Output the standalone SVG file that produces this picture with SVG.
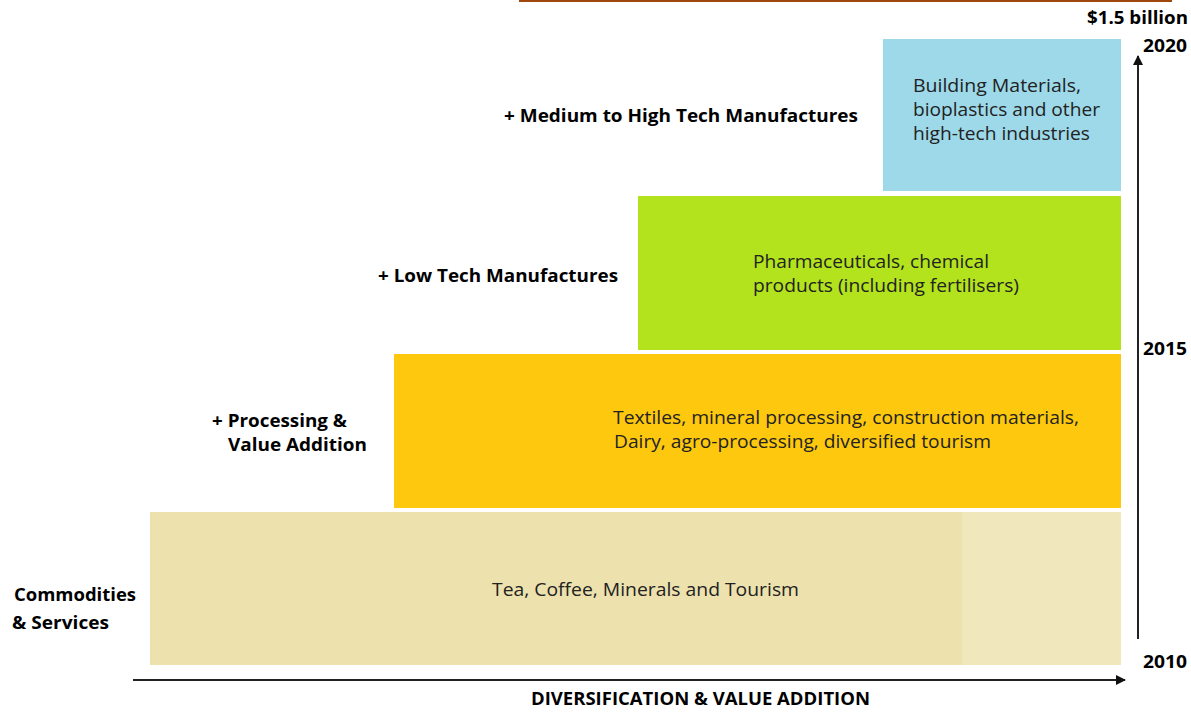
<svg xmlns="http://www.w3.org/2000/svg" width="1191" height="715" viewBox="0 0 1191 715">
<style>
.lbl{font-family:"Open Sans","Liberation Sans",sans-serif;font-weight:bold;font-size:17px;fill:#000}
.body{font-family:"Open Sans","Liberation Sans",sans-serif;font-size:17.5px;fill:#222}
.axis{stroke:#222;stroke-width:2;fill:none}
</style>
<defs>
<marker id="arr" viewBox="0 0 10 10" refX="9" refY="5" markerWidth="5" markerHeight="5" orient="auto" markerUnits="strokeWidth">
<path d="M0,0 L10,5 L0,10 z" fill="#111"/>
</marker>
</defs>
<rect width="1191" height="715" fill="#fff"/>
<line x1="519" y1="1" x2="1172" y2="1" stroke="#9E480E" stroke-width="2"/>
<text class="lbl" x="1087" y="24" textLength="101" lengthAdjust="spacingAndGlyphs">$1.5 billion</text>

<g id="node-high">
<rect x="883" y="39" width="238" height="152" fill="#9DD9E9"/>
<text class="body" x="913" y="92" textLength="168" lengthAdjust="spacingAndGlyphs">Building Materials,</text>
<text class="body" x="913" y="116" textLength="187" lengthAdjust="spacingAndGlyphs">bioplastics and other</text>
<text class="body" x="913" y="140" textLength="177" lengthAdjust="spacingAndGlyphs">high-tech industries</text>
</g>
<g id="node-low">
<rect x="638" y="196" width="483" height="154" fill="#B3E31C"/>
<text class="body" x="753" y="268" textLength="236" lengthAdjust="spacingAndGlyphs">Pharmaceuticals, chemical</text>
<text class="body" x="753" y="292" textLength="266" lengthAdjust="spacingAndGlyphs">products (including fertilisers)</text>
</g>
<g id="node-processing">
<rect x="394" y="354" width="727" height="154" fill="#FDC80D"/>
<text class="body" x="613" y="424" textLength="466" lengthAdjust="spacingAndGlyphs">Textiles, mineral processing, construction materials,</text>
<text class="body" x="614" y="448" textLength="377" lengthAdjust="spacingAndGlyphs">Dairy, agro-processing, diversified tourism</text>
</g>
<g id="node-commodities">
<rect x="150" y="512" width="812" height="153" fill="#EDE1AE"/>
<rect x="962" y="512" width="159" height="153" fill="#F0E7BC"/>
<text class="body" x="492" y="596" textLength="307" lengthAdjust="spacingAndGlyphs">Tea, Coffee, Minerals and Tourism</text>
</g>

<g id="labels">
<text class="lbl" x="504" y="122" textLength="354" lengthAdjust="spacingAndGlyphs">+ Medium to High Tech Manufactures</text>
<text class="lbl" x="378" y="282" textLength="240" lengthAdjust="spacingAndGlyphs">+ Low Tech Manufactures</text>
<text class="lbl" x="212" y="427" textLength="135" lengthAdjust="spacingAndGlyphs">+ Processing &amp;</text>
<text class="lbl" x="228" y="451" textLength="139" lengthAdjust="spacingAndGlyphs">Value Addition</text>
<text class="lbl" x="14" y="601" textLength="122" lengthAdjust="spacingAndGlyphs">Commodities</text>
<text class="lbl" x="12" y="629" textLength="97" lengthAdjust="spacingAndGlyphs">&amp; Services</text>
</g>

<g id="connectors">
<line class="axis" x1="1138" y1="639" x2="1138" y2="56" marker-end="url(#arr)"/>
<line class="axis" x1="133" y1="680" x2="1125" y2="680" marker-end="url(#arr)"/>
</g>

<g id="axis-labels">
<text class="lbl" x="1143" y="52" textLength="44" lengthAdjust="spacingAndGlyphs">2020</text>
<text class="lbl" x="1143" y="355" textLength="44" lengthAdjust="spacingAndGlyphs">2015</text>
<text class="lbl" x="1143" y="668" textLength="44" lengthAdjust="spacingAndGlyphs">2010</text>
<text class="lbl" x="531" y="705" textLength="339" lengthAdjust="spacingAndGlyphs">DIVERSIFICATION &amp; VALUE ADDITION</text>
</g>
</svg>
